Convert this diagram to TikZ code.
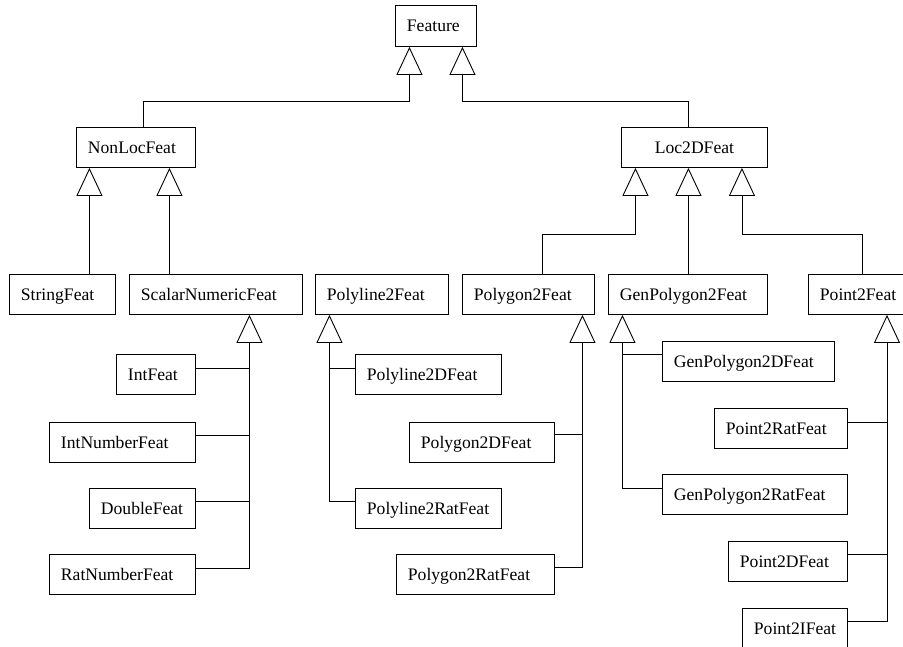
\documentclass[tikz,border=0pt]{standalone}
\usepackage{fontspec}
\setmainfont{Liberation Serif}
\usetikzlibrary{arrows.meta,calc}
\begin{document}
\begin{tikzpicture}[x=1pt,y=-1pt, line width=0.9pt,
  box/.style={draw, anchor=north west, inner xsep=11.5pt, inner ysep=0pt,
    minimum height=40pt, text height=12pt, text depth=0pt, align=left,
    font=\fontsize{17.6}{20}\selectfont},
  inh/.style={-{Triangle[open,width=26pt,length=28pt]}}]
\useasboundingbox (0,0) rectangle (903,646);
\clip (0,0) rectangle (903,646);
% classes
\node[box,text width=58pt,minimum height=41pt] (Feature) at (395,5) {Feature};
\node[box,text width=96pt] (NonLocFeat) at (76,127) {NonLocFeat};
\node[box,text width=123pt,align=center] (Loc2DFeat) at (621,127) {Loc2DFeat};
\node[box,text width=83pt] (StringFeat) at (9,274) {StringFeat};
\node[box,text width=150pt] (ScalarNumericFeat) at (129,274) {ScalarNumericFeat};
\node[box,text width=110pt] (Polyline2Feat) at (315,274) {Polyline2Feat};
\node[box,text width=109pt] (Polygon2Feat) at (462,274) {Polygon2Feat};
\node[box,text width=136pt] (GenPolygon2Feat) at (608,274) {GenPolygon2Feat};
\node[box,text width=87pt] (Point2Feat) at (808,274) {Point2Feat};
\node[box,text width=56pt] (IntFeat) at (116,354) {IntFeat};
\node[box,text width=123pt] (IntNumberFeat) at (49,422) {IntNumberFeat};
\node[box,text width=83pt] (DoubleFeat) at (89,488) {DoubleFeat};
\node[box,text width=123pt] (RatNumberFeat) at (49,554) {RatNumberFeat};
\node[box,text width=123pt] (Polyline2DFeat) at (355,354) {Polyline2DFeat};
\node[box,text width=123pt] (Polyline2RatFeat) at (355,488) {Polyline2RatFeat};
\node[box,text width=122pt] (Polygon2DFeat) at (409,422) {Polygon2DFeat};
\node[box,text width=135pt] (Polygon2RatFeat) at (396,554) {Polygon2RatFeat};
\node[box,text width=149pt] (GenPolygon2DFeat) at (662,341) {GenPolygon2DFeat};
\node[box,text width=162pt] (GenPolygon2RatFeat) at (662,474) {GenPolygon2RatFeat};
\node[box,text width=110pt] (Point2RatFeat) at (714,408) {Point2RatFeat};
\node[box,text width=96pt] (Point2DFeat) at (728,541) {Point2DFeat};
\node[box,text width=82pt] (Point2IFeat) at (742,608) {Point2IFeat};
% arrow apex points
\coordinate (fA) at ($(Feature.south)+(-26.5,0)$);
\coordinate (fB) at ($(Feature.south)+(26.5,0)$);
\coordinate (nA) at ($(NonLocFeat.south)+(-46.5,0)$);
\coordinate (nB) at ($(NonLocFeat.south)+(33.5,0)$);
\coordinate (lA) at ($(Loc2DFeat.south)+(-59,0)$);
\coordinate (lB) at ($(Loc2DFeat.south)+(-6,0)$);
\coordinate (lC) at ($(Loc2DFeat.south)+(47.5,0)$);
\coordinate (sA) at ($(ScalarNumericFeat.south)+(33.5,0)$);
\coordinate (pA) at ($(Polyline2Feat.south)+(-52.5,0)$);
\coordinate (gA) at ($(Polygon2Feat.south)+(54,0)$);
\coordinate (hA) at ($(GenPolygon2Feat.south)+(-65.5,0)$);
\coordinate (tA) at ($(Point2Feat.south west)+(79,0)$);
% child attachment points
\coordinate (cInt) at ($(IntFeat.north east)+(0,14)$);
\coordinate (cIntN) at ($(IntNumberFeat.north east)+(0,13.5)$);
\coordinate (cDbl) at ($(DoubleFeat.north east)+(0,13.5)$);
\coordinate (cRat) at ($(RatNumberFeat.north east)+(0,14)$);
\coordinate (cPl2D) at ($(Polyline2DFeat.north west)+(0,14)$);
\coordinate (cPl2R) at ($(Polyline2RatFeat.north west)+(0,13.5)$);
\coordinate (cPg2D) at ($(Polygon2DFeat.north east)+(0,12.5)$);
\coordinate (cPg2R) at ($(Polygon2RatFeat.north east)+(0,13.5)$);
\coordinate (cGP2D) at ($(GenPolygon2DFeat.north west)+(0,13.5)$);
\coordinate (cGP2R) at ($(GenPolygon2RatFeat.north west)+(0,14)$);
\coordinate (cP2R) at ($(Point2RatFeat.north east)+(0,14)$);
\coordinate (cP2D) at ($(Point2DFeat.north east)+(0,13.5)$);
\coordinate (cP2I) at ($(Point2IFeat.north east)+(0,13.5)$);
% top level
\draw[inh] ($(NonLocFeat.north)+(7.5,0)$) |- ($(fA)+(0,55)$) -- (fA);
\draw[inh] ($(Loc2DFeat.north)+(-6,0)$) |- ($(fB)+(0,55)$) -- (fB);
\draw[inh] (nA |- StringFeat.north) -- (nA);
\draw[inh] (nB |- ScalarNumericFeat.north) -- (nB);
\draw[inh] ($(Polygon2Feat.north)+(14,0)$) |- ($(lA)+(0,67)$) -- (lA);
\draw[inh] (lB |- GenPolygon2Feat.north) -- (lB);
\draw[inh] ($(Point2Feat.north west)+(54,0)$) |- ($(lC)+(0,67)$) -- (lC);
% ScalarNumericFeat
\draw[inh] (cRat) -| (sA);
\draw (cInt) -- (cInt -| sA);
\draw (cIntN) -- (cIntN -| sA);
\draw (cDbl) -- (cDbl -| sA);
% Polyline2Feat
\draw[inh] (cPl2R) -| (pA);
\draw (cPl2D) -- (cPl2D -| pA);
% Polygon2Feat
\draw[inh] (cPg2R) -| (gA);
\draw (cPg2D) -- (cPg2D -| gA);
% GenPolygon2Feat
\draw[inh] (cGP2R) -| (hA);
\draw (cGP2D) -- (cGP2D -| hA);
% Point2Feat
\draw[inh] (cP2I) -| (tA);
\draw (cP2R) -- (cP2R -| tA);
\draw (cP2D) -- (cP2D -| tA);
\end{tikzpicture}
\end{document}
